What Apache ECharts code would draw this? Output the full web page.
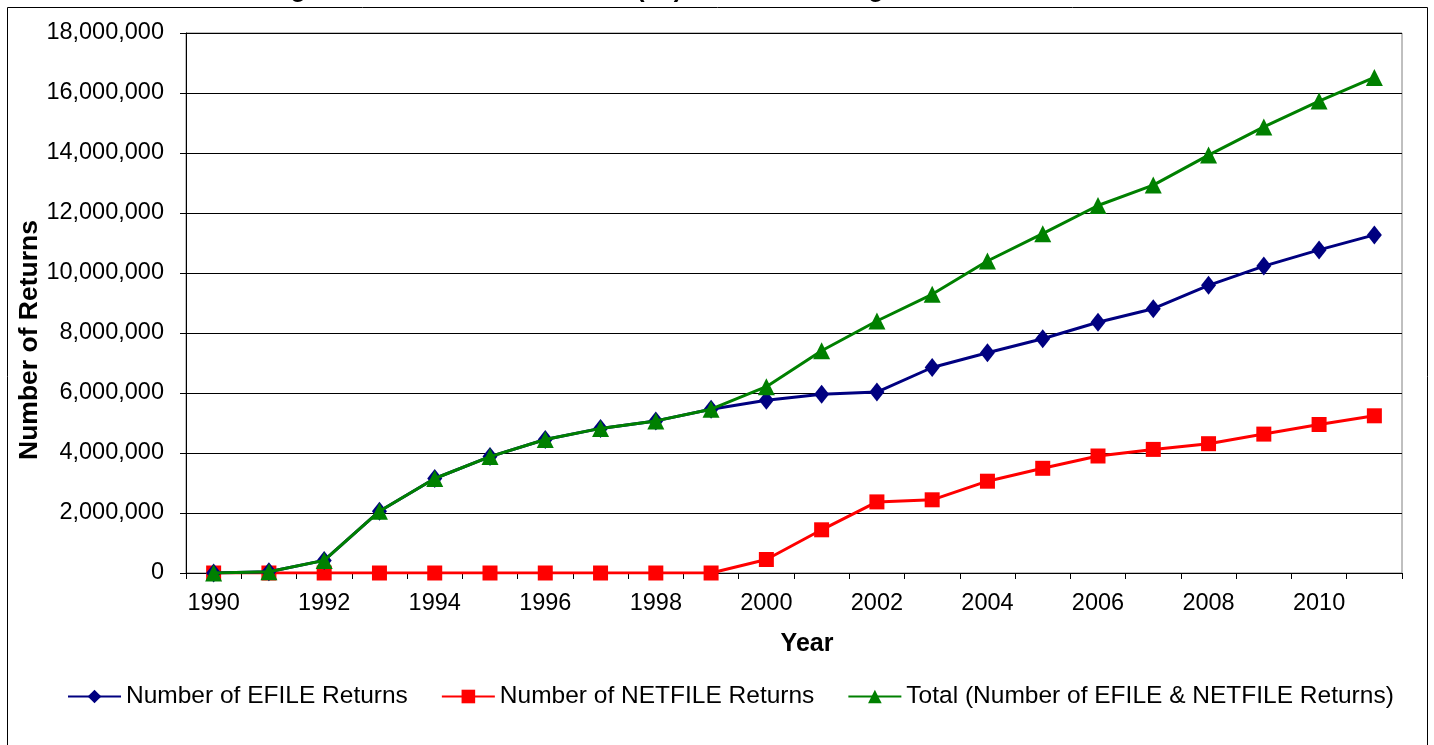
<!DOCTYPE html>
<html>
<head>
<meta charset="utf-8">
<script src="https://cdn.jsdelivr.net/npm/echarts@6/dist/echarts.min.js"></script>
<style>
html,body{margin:0;padding:0;background:#fff;}
#chart{width:1434px;height:745px;}
</style>
</head>
<body>
<div id="chart"></div>
<script>
var years = ['1990','1991','1992','1993','1994','1995','1996','1997','1998','1999','2000','2001','2002','2003','2004','2005','2006','2007','2008','2009','2010','2011'];
var efile = [0, 40000, 420000, 2060000, 3150000, 3880000, 4450000, 4820000, 5070000, 5460000, 5760000, 5960000, 6030000, 6850000, 7340000, 7810000, 8360000, 8810000, 9590000, 10230000, 10770000, 11270000];
var netfile = [0, 0, 0, 0, 0, 0, 0, 0, 0, 0, 450000, 1440000, 2370000, 2440000, 3060000, 3490000, 3900000, 4120000, 4310000, 4630000, 4950000, 5240000];
var total = [0, 40000, 420000, 2060000, 3150000, 3880000, 4450000, 4820000, 5070000, 5460000, 6210000, 7410000, 8400000, 9290000, 10400000, 11310000, 12250000, 12930000, 13930000, 14870000, 15730000, 16520000];
var seriesNames = ['Number of EFILE Returns', 'Number of NETFILE Returns', 'Total (Number of EFILE & NETFILE Returns)'];
var titleText = 'Figure 1: Number of Individual (T1) Electronic Filing between 1990 and 2011';
var xName = 'Year';
var yName = 'Number of Returns';

var FONT = '"Liberation Sans", Arial, sans-serif';
var chart = echarts.init(document.getElementById('chart'), null, {renderer: 'canvas'});
function fmt(v){ return String(v).replace(/\B(?=(\d{3})+(?!\d))/g, ','); }

var option = {
  animation: false,
  backgroundColor: '#fff',
  textStyle: {fontFamily: FONT, color: '#000'},
  graphic: [
    {type: 'rect', shape: {x: 7.5, y: 7.5, width: 1420, height: 800}, style: {fill: 'none', stroke: '#000', lineWidth: 1}, z: -1},
    {type: 'text', x: 717, y: 3, style: {text: titleText, font: 'bold 25px ' + FONT, fill: '#000', textAlign: 'center', textVerticalAlign: 'bottom'}},
    {type: 'text', x: 807, y: 644, style: {text: xName, font: 'bold 25px ' + FONT, fill: '#000', textAlign: 'center', textVerticalAlign: 'middle'}},
    {type: 'text', x: 30, y: 340, rotation: Math.PI / 2, style: {text: yName, font: 'bold 26.5px ' + FONT, fill: '#000', textAlign: 'center', textVerticalAlign: 'middle'}}
  ],
  grid: {left: 186, right: 32, top: 33, bottom: 172, show: true, borderColor: '#808080', borderWidth: 1, backgroundColor: 'transparent'},
  legend: {
    data: seriesNames,
    left: 67, top: 684, padding: 0,
    itemWidth: 53, itemHeight: 17, itemGap: 33,
    textStyle: {fontSize: 24.5, color: '#000', fontFamily: FONT}
  },
  xAxis: {
    type: 'category', data: years, boundaryGap: true,
    axisLine: {lineStyle: {color: '#000', width: 1}},
    axisTick: {show: true, interval: 0, length: 6, lineStyle: {color: '#000'}},
    axisLabel: {interval: 1, fontSize: 23.5, color: '#000', margin: 19, fontFamily: FONT},
    splitLine: {show: false}
  },
  yAxis: {
    type: 'value', min: 0, max: 18000000, interval: 2000000,
    axisLine: {show: true, lineStyle: {color: '#000', width: 1}},
    axisTick: {show: true, length: 6, lineStyle: {color: '#000'}},
    axisLabel: {fontSize: 23.5, color: '#000', margin: 22, fontFamily: FONT, formatter: fmt},
    splitLine: {show: true, lineStyle: {color: '#000', width: 1}}
  },
  series: [
    {name: seriesNames[0], type: 'line', data: efile, symbol: 'diamond', symbolSize: [15, 19],
     itemStyle: {color: '#000080'}, lineStyle: {color: '#000080', width: 3}, z: 3},
    {name: seriesNames[1], type: 'line', data: netfile, symbol: 'rect', symbolSize: 15,
     itemStyle: {color: '#FF0000'}, lineStyle: {color: '#FF0000', width: 3}, z: 2},
    {name: seriesNames[2], type: 'line', data: total, symbol: 'triangle', symbolSize: 17,
     itemStyle: {color: '#008000'}, lineStyle: {color: '#008000', width: 3}, z: 4}
  ]
};
chart.setOption(option);
</script>
</body>
</html>
